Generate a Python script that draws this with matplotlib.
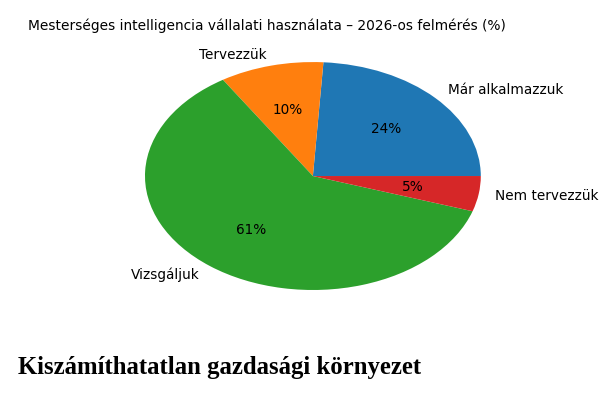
import matplotlib
matplotlib.use('Agg')
import matplotlib.pyplot as plt

categories = ['Már alkalmazzuk', 'Tervezzük', 'Vizsgáljuk', 'Nem tervezzük']
shares = [24, 10, 61, 5]
title = 'Mesterséges intelligencia vállalati használata – 2026-os felmérés (%)'
caption = 'Kiszámíthatatlan gazdasági környezet'

fig = plt.figure(figsize=(6.11, 3.93), dpi=100)
ax = fig.add_axes([0.1686, 0.1896, 0.687, 0.725])

wedges, texts, autotexts = ax.pie(shares, labels=categories, autopct='%1.0f%%',
                                  textprops={'fontsize': 9.8})
ax.set_aspect('auto')  # stretched ellipse as in the reference
ax.set_xlim(-1.25, 1.25)
ax.set_ylim(-1.25, 1.25)

fig.text(0.437, 0.935, title, ha='center', va='center', fontsize=9.9)
fig.text(0.03, 0.066, caption, ha='left', va='center', fontsize=17.8,
         family='Liberation Serif', weight='bold')

fig.savefig('out.png', dpi=100)
